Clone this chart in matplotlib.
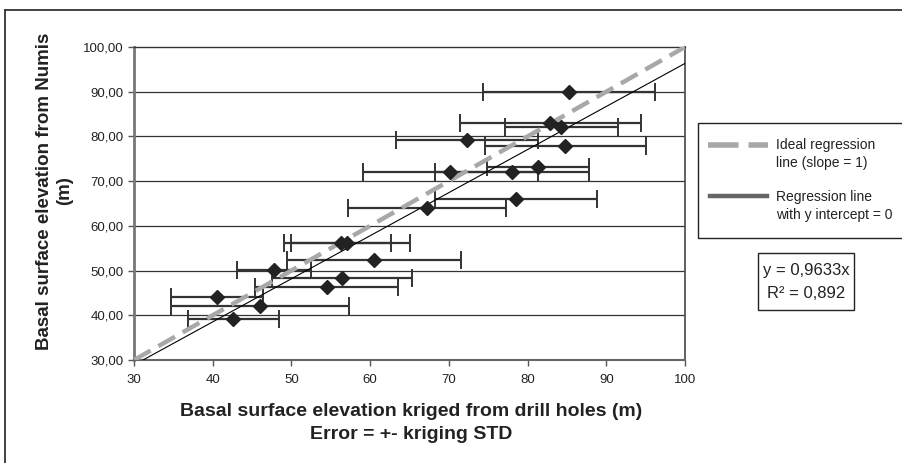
import matplotlib
matplotlib.use('Agg')
import matplotlib.pyplot as plt
from matplotlib.patches import Rectangle
from matplotlib.lines import Line2D

plt.rcParams['font.family'] = ['Liberation Sans', 'DejaVu Sans']

# data
kriged = [85.3, 82.9, 84.3, 72.3, 84.8, 81.3, 70.2, 78.0, 78.5, 67.2,
          56.3, 57.0, 60.5, 47.8, 56.4, 54.5, 40.5, 46.0, 42.6]
numis = [90.0, 83.1, 82.1, 79.1, 77.9, 73.2, 72.0, 72.0, 66.0, 64.1,
         56.2, 56.2, 52.4, 50.1, 48.3, 46.3, 44.2, 42.1, 39.2]
kriging_std = [10.9, 11.5, 7.2, 9.0, 10.2, 6.5, 11.1, 9.8, 10.3, 10.0,
               6.4, 8.0, 11.1, 4.7, 8.9, 9.1, 5.85, 11.3, 5.8]
slope = 0.9633
r2_text = 'R² = 0,892'
eq_text = 'y = 0,9633x'

W, H = 903, 463
def fx(px):
    return px / W
def fy(py):
    return 1 - py / H

fig = plt.figure(figsize=(W / 100, H / 100), dpi=100)
ax = fig.add_axes([fx(134), fy(360), (685 - 134) / W, (360 - 47) / H])

# horizontal grid lines
for yv in range(40, 100, 10):
    ax.axhline(yv, color='#333333', lw=0.9, zorder=1)

# ideal line (slope = 1) and regression through origin
ax.plot([30, 100], [30, 100], color='#a8a8a8', lw=3.2, dashes=(4.3, 2.0), zorder=3)
xs = [30, 100]
ax.plot(xs, [slope * v for v in xs], color='black', lw=0.8, zorder=4)

ax.errorbar(kriged, numis, xerr=kriging_std, fmt='none', ecolor='#333333',
            elinewidth=1.6, capsize=6.5, capthick=1.4, zorder=2)
ax.plot(kriged, numis, 'D', color='#222222', markersize=7, zorder=5)

ax.set_xlim(30, 100)
ax.set_ylim(30, 100)
ax.set_xticks(range(30, 101, 10))
ax.set_yticks(range(30, 101, 10))
ax.set_yticklabels([f'{v:.2f}'.replace('.', ',') for v in range(30, 101, 10)])
ax.tick_params(axis='both', direction='out', labelsize=9.5, colors='#555555',
               labelcolor='#222222', length=4, width=1)
ax.tick_params(axis='x', pad=6)

ax.spines['left'].set_color('#777777')
ax.spines['left'].set_linewidth(2)
ax.spines['bottom'].set_color('#666666')
ax.spines['bottom'].set_linewidth(1.5)
ax.spines['top'].set_color('#333333')
ax.spines['top'].set_linewidth(1.0)
ax.spines['right'].set_color('#444444')
ax.spines['right'].set_linewidth(1.2)

# axis titles
fig.text(fx(55), fy(191), 'Basal surface elevation from Numis\n(m)', rotation=90,
         ha='center', va='center', multialignment='center', fontsize=13.5,
         fontweight='bold', color='#222222', linespacing=1.25)
fig.text(fx(411), fy(423), 'Basal surface elevation kriged from drill holes (m)\nError = +- kriging STD',
         ha='center', va='center', multialignment='center', fontsize=14,
         fontweight='bold', color='#222222', linespacing=1.45)

# outer frame
fig.add_artist(Line2D([fx(5), fx(5)], [fy(10), 0], color='#333333', lw=1.3))
fig.add_artist(Line2D([fx(5), 1], [fy(10), fy(10)], color='#333333', lw=1.3))

# legend box
fig.add_artist(Rectangle((fx(698), fy(237.7)), fx(300), (237.7 - 122.7) / H,
                         fill=False, edgecolor='#222222', lw=1.0))
fig.add_artist(Line2D([fx(708), fx(768)], [fy(145), fy(145)], color='#a8a8a8',
                      lw=4, dashes=(5.5, 1.8)))
fig.add_artist(Line2D([fx(710), fx(767)], [fy(196), fy(196)], color='#666666', lw=3.2))
fig.text(fx(776), fy(154), 'Ideal regression\nline (slope = 1)', ha='left', va='center',
         fontsize=10, color='#222222', linespacing=1.3)
fig.text(fx(776), fy(206), 'Regression line\nwith y intercept = 0', ha='left', va='center',
         fontsize=10, color='#222222', linespacing=1.3)

# equation box
fig.add_artist(Rectangle((fx(758), fy(310)), (854 - 758) / W, (310 - 253) / H,
                         fill=False, edgecolor='#222222', lw=1.0))
fig.text(fx(806), fy(271), eq_text, ha='center', va='center', fontsize=12, color='#222222')
fig.text(fx(806), fy(293), r2_text, ha='center', va='center', fontsize=12, color='#222222')

fig.savefig('out.png', dpi=100)
